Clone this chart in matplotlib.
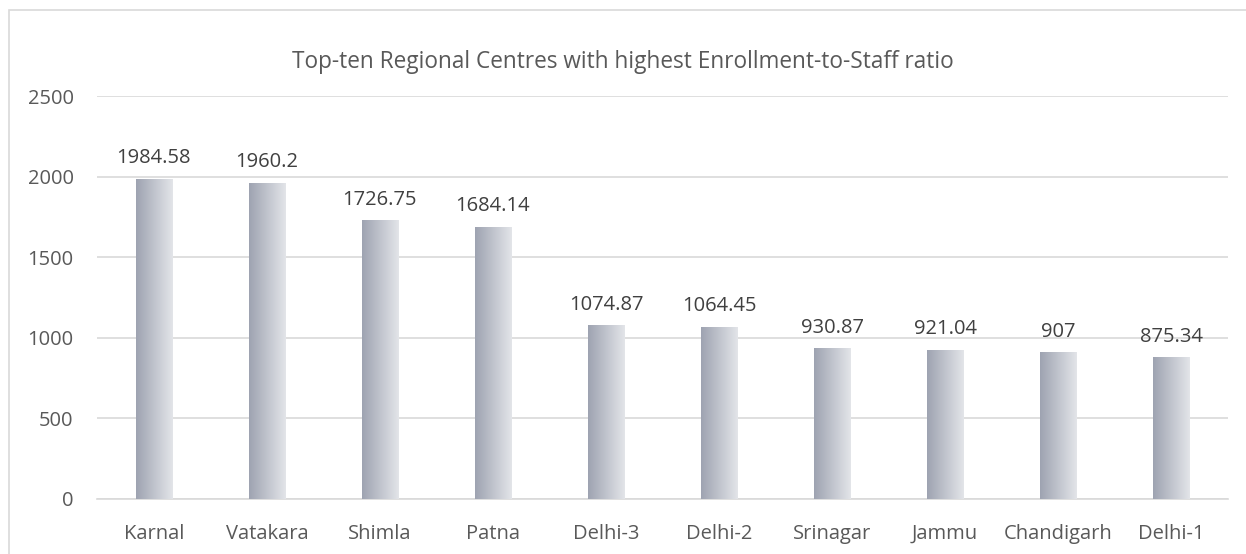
import matplotlib
matplotlib.use('Agg')
import matplotlib.pyplot as plt
import numpy as np
from matplotlib.colors import LinearSegmentedColormap
from matplotlib.patches import Rectangle

centres = ['Karnal', 'Vatakara', 'Shimla', 'Patna', 'Delhi-3', 'Delhi-2',
           'Srinagar', 'Jammu', 'Chandigarh', 'Delhi-1']
ratios = [1984.58, 1960.2, 1726.75, 1684.14, 1074.87, 1064.45,
          930.87, 921.04, 907, 875.34]
labels = ['1984.58', '1960.2', '1726.75', '1684.14', '1074.87', '1064.45',
          '930.87', '921.04', '907', '875.34']

plt.rcParams['font.family'] = ['Open Sans', 'DejaVu Sans']

fig = plt.figure(figsize=(12.46, 5.54), dpi=100)
ax = fig.add_axes([0.0781, 0.0993, 0.9072, 0.7274])

# outer chart border (right and bottom edges run off the canvas)
fig.patches.append(Rectangle((0.0072, -0.05), 1.05, 1.032, transform=fig.transFigure,
                             fill=False, edgecolor='#d9d9d9', linewidth=1.2))

grad = LinearSegmentedColormap.from_list('bar', ['#9ea3b1', '#e3e5e9'])
width = 0.32
bars = ax.bar(range(len(centres)), ratios, width=width, color='none', zorder=3)
g = np.linspace(0, 1, 256).reshape(1, -1)
for b in bars:
    x0 = b.get_x()
    ax.imshow(g, cmap=grad, aspect='auto', zorder=3,
              extent=(x0, x0 + b.get_width(), 0, b.get_height()))

for i, b in enumerate(bars):
    ax.annotate(labels[i], (b.get_x() + b.get_width() / 2, b.get_height()),
                xytext=(0, 8), textcoords='offset points',
                ha='center', va='bottom', fontsize=14.5, color='#404040')

ax.set_xlim(-0.5, len(centres) - 0.5)
ax.set_ylim(0, 2500)
ax.set_yticks(range(0, 2501, 500))
ax.set_xticks(range(len(centres)))
ax.set_xticklabels(centres)
ax.grid(axis='y', color='#d9d9d9', linewidth=1.2, zorder=0)
for s in ['top', 'right', 'left']:
    ax.spines[s].set_visible(False)
ax.spines['bottom'].set_color('#d9d9d9')
ax.spines['bottom'].set_linewidth(1.2)
ax.tick_params(axis='both', length=0, labelsize=14.5, labelcolor='#595959')
ax.tick_params(axis='y', pad=17)
ax.tick_params(axis='x', pad=18)

fig.text(0.5, 0.888, 'Top-ten Regional Centres with highest Enrollment-to-Staff ratio',
         ha='center', va='center', fontsize=16.3, color='#595959')

fig.savefig('out.png', dpi=100)
